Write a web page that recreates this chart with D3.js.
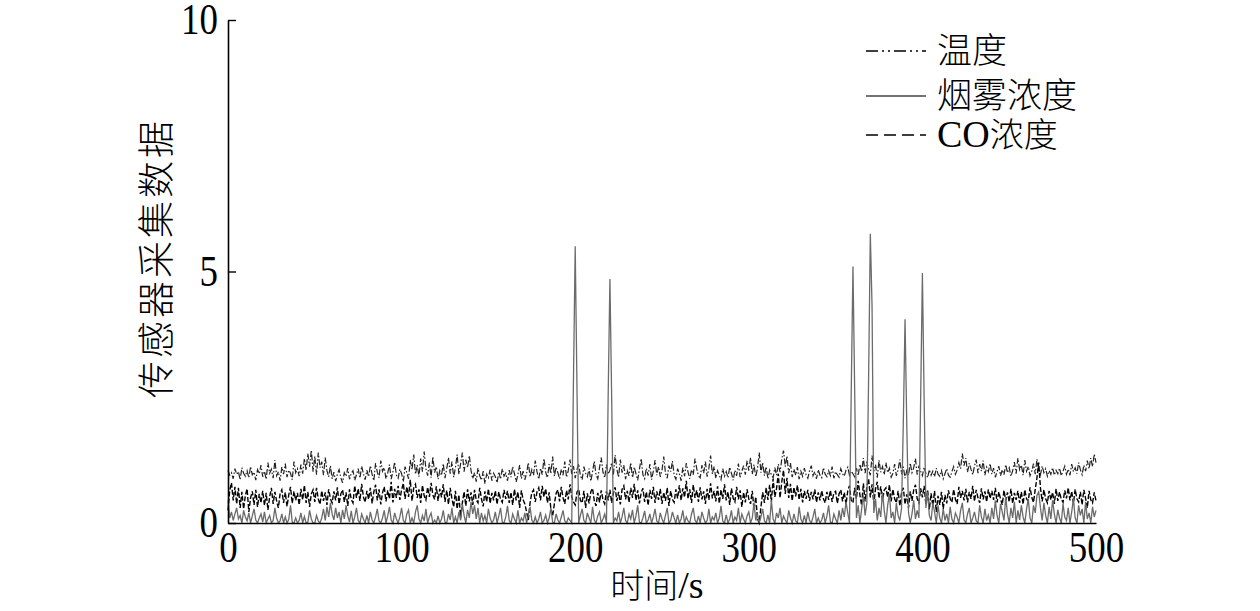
<!DOCTYPE html>
<html>
<head>
<meta charset="utf-8">
<script src="https://cdn.jsdelivr.net/npm/d3@7"></script>
<style>
  html, body { margin: 0; padding: 0; background: #fff; }
  svg { display: block; }
</style>
</head>
<body>
<svg id="chart" width="1260" height="611"></svg>
<script>
// sampled once per second, 0..500 s
const seconds = d3.range(0, 501);

// 温度
const temperature = [
  1.05,0.95,1.00,0.88,1.08,0.97,1.02,0.86,1.10,0.99,0.93,1.04,0.90,1.12,0.96,1.01,0.85,1.06,0.98,1.15,
  0.92,1.03,0.87,1.20,0.99,1.07,0.89,1.25,0.94,1.02,0.84,1.11,0.97,1.18,0.91,1.05,0.99,0.86,1.22,1.00,
  1.08,0.93,1.16,0.98,1.28,1.05,1.38,1.12,1.45,1.02,1.33,0.96,1.40,1.10,1.22,0.95,1.30,1.04,0.92,1.14,
  0.88,1.01,0.83,0.97,1.06,0.90,0.80,1.00,0.93,1.09,0.87,0.99,1.04,0.85,0.96,1.08,0.89,1.13,0.98,0.86,
  1.05,0.92,1.14,0.97,0.84,1.19,1.01,0.90,1.24,1.03,1.10,0.88,0.99,1.16,0.87,1.02,1.21,0.95,0.89,1.07,
  0.98,0.82,1.12,1.00,0.88,1.25,1.06,1.36,0.97,1.15,0.92,1.28,1.02,1.42,1.08,0.94,1.20,0.90,1.32,1.00,
  1.12,0.87,1.04,0.95,1.18,0.89,1.08,1.30,0.98,1.22,0.91,1.10,1.36,0.97,1.18,1.40,1.02,1.26,1.10,1.34,
  1.04,0.88,1.00,0.82,1.09,0.94,0.85,1.03,0.78,0.97,0.90,1.06,0.84,0.99,0.92,0.80,1.02,0.87,1.08,0.93,
  0.99,0.84,1.05,0.91,1.12,0.98,0.82,0.96,1.15,0.88,1.03,0.86,0.99,1.20,0.92,1.06,0.95,1.24,1.02,0.87,
  1.09,0.96,1.28,1.01,0.90,1.17,0.98,1.32,0.93,1.11,1.00,0.88,1.07,0.95,1.22,0.91,1.04,1.26,0.97,1.13,
  0.89,1.06,1.18,0.94,0.86,1.12,0.99,0.92,1.08,0.83,1.02,1.23,0.96,0.88,1.10,1.30,1.01,0.90,1.16,0.97,
  1.05,1.20,0.96,1.35,1.07,0.91,1.26,1.00,1.15,0.87,1.04,0.94,1.20,0.90,1.11,0.98,0.85,1.07,1.28,0.96,
  0.88,1.09,0.94,1.17,0.86,1.03,1.25,0.95,1.12,0.92,1.05,1.32,0.99,0.89,1.14,1.02,1.23,0.95,0.87,1.08,
  0.98,0.84,1.10,0.93,1.19,1.01,0.88,1.06,0.96,1.28,1.08,0.94,0.90,1.15,0.99,1.22,0.92,1.09,1.34,0.97,
  1.12,0.89,1.04,0.95,0.86,1.08,0.93,1.02,0.90,1.11,0.99,0.85,1.05,0.94,1.18,0.91,1.03,1.14,0.96,1.24,
  1.04,1.30,0.97,1.16,0.92,1.08,1.40,1.00,1.20,0.94,1.12,0.88,1.05,0.96,0.90,1.10,0.95,1.17,1.01,1.27,
  1.44,1.12,1.33,0.99,1.19,0.91,1.07,0.95,1.11,0.87,1.03,0.93,1.09,0.96,0.89,1.04,1.14,0.94,1.02,0.88,
  1.06,0.95,0.90,1.10,0.97,0.92,1.04,0.94,1.12,0.89,1.02,0.96,0.91,1.08,0.98,0.93,1.05,1.11,0.95,1.03,
  0.98,0.92,1.09,0.94,1.17,1.02,1.29,0.99,1.22,1.06,0.95,1.34,1.03,1.16,0.90,1.25,1.01,1.12,0.96,1.20,
  1.00,1.09,0.91,0.99,1.17,0.94,1.06,1.26,0.97,1.12,0.89,1.04,0.95,1.19,1.00,1.10,1.28,0.96,1.14,1.03,
  0.94,1.11,0.99,0.90,1.06,0.95,1.03,0.92,1.09,0.97,0.93,1.04,0.88,0.98,1.08,0.95,0.91,1.02,1.12,0.97,
  1.05,1.20,1.08,1.38,1.14,1.29,1.01,1.19,1.07,0.96,1.13,1.26,0.99,1.17,1.03,1.24,0.95,1.11,1.02,1.18,
  0.97,1.09,0.91,1.02,1.13,0.94,1.06,0.96,1.16,1.00,1.10,0.93,1.04,1.21,0.98,1.29,1.06,1.15,0.95,1.25,
  1.03,1.12,0.94,1.03,1.18,0.97,1.27,1.05,0.96,1.13,1.00,1.08,0.93,1.04,0.97,1.10,0.95,1.05,0.98,1.09,
  0.94,1.03,1.13,0.97,1.07,0.95,1.17,1.02,1.10,0.98,1.20,1.06,0.96,1.15,1.03,1.24,1.08,1.29,1.12,1.37,
  1.20
];

// 烟雾浓度
const smoke = [
  0.45,0.10,0.22,0.05,0.18,0.30,0.08,0.15,0.00,0.25,0.12,0.04,0.20,0.00,0.14,0.28,0.06,0.00,0.10,0.18,
  0.02,0.22,0.00,0.08,0.15,0.00,0.05,0.30,0.10,0.00,0.04,0.18,0.00,0.12,0.00,0.07,0.35,0.02,0.00,0.10,
  0.00,0.05,0.20,0.00,0.13,0.00,0.02,0.25,0.08,0.00,0.00,0.15,0.04,0.00,0.10,0.28,0.05,0.32,0.12,0.40,
  0.18,0.06,0.30,0.10,0.22,0.00,0.26,0.08,0.35,0.14,0.02,0.24,0.00,0.12,0.30,0.05,0.00,0.18,0.08,0.00,
  0.15,0.00,0.22,0.06,0.00,0.12,0.28,0.04,0.00,0.10,0.25,0.00,0.14,0.32,0.06,0.00,0.20,0.08,0.00,0.12,
  0.30,0.05,0.00,0.18,0.26,0.00,0.10,0.00,0.22,0.35,0.08,0.00,0.15,0.04,0.28,0.00,0.12,0.20,0.00,0.06,
  0.00,0.14,0.00,0.08,0.25,0.02,0.00,0.18,0.06,0.30,0.00,0.12,0.00,0.22,0.05,0.38,0.15,0.00,0.26,0.10,
  0.42,0.18,0.35,0.08,0.30,0.00,0.20,0.04,0.15,0.00,0.28,0.10,0.00,0.06,0.22,0.00,0.14,0.30,0.02,0.00,
  0.12,0.34,0.05,0.00,0.18,0.08,0.00,0.25,0.00,0.10,0.04,0.20,0.00,0.15,0.32,0.06,0.00,0.12,0.00,0.08,
  0.22,0.00,0.05,0.16,0.00,0.10,0.30,0.02,0.00,0.18,0.06,0.00,0.12,0.25,0.04,0.00,0.10,0.05,0.00,2.85,
  5.50,2.75,0.00,0.15,0.28,0.05,0.00,0.20,0.10,0.00,0.32,0.06,0.00,0.14,0.22,0.00,0.08,0.18,0.00,2.55,
  4.85,2.50,0.00,0.10,0.04,0.22,0.00,0.12,0.30,0.05,0.00,0.18,0.08,0.26,0.00,0.14,0.35,0.02,0.00,0.10,
  0.24,0.00,0.06,0.18,0.00,0.12,0.28,0.04,0.00,0.20,0.08,0.00,0.15,0.30,0.00,0.05,0.22,0.10,0.00,0.16,
  0.00,0.08,0.25,0.00,0.12,0.04,0.00,0.18,0.30,0.06,0.00,0.14,0.00,0.22,0.10,0.00,0.05,0.28,0.00,0.12,
  0.06,0.20,0.00,0.10,0.34,0.04,0.00,0.16,0.00,0.08,0.25,0.00,0.12,0.05,0.30,0.00,0.18,0.08,0.00,0.14,
  0.22,0.00,0.10,0.40,0.05,0.18,0.00,0.12,0.28,0.04,0.00,0.16,0.00,0.45,0.08,0.00,0.20,0.10,0.30,0.00,
  0.14,0.06,0.00,0.25,0.10,0.00,0.18,0.04,0.00,0.32,0.08,0.00,0.15,0.00,0.22,0.05,0.00,0.12,0.28,0.00,
  0.10,0.00,0.06,0.20,0.00,0.14,0.35,0.02,0.00,0.18,0.08,0.00,0.25,0.05,0.30,0.12,0.42,0.20,0.00,2.58,
  5.10,2.60,0.10,0.35,0.00,0.28,0.55,0.15,0.40,2.85,5.75,4.30,0.20,0.48,0.05,0.30,0.12,0.62,0.25,0.00,
  0.35,0.58,0.10,0.22,0.00,0.40,0.15,0.05,0.30,1.99,4.05,1.95,0.20,0.00,0.18,0.45,0.08,0.25,0.10,2.50,
  4.97,2.45,0.30,0.62,0.15,0.05,0.40,0.22,0.00,0.35,0.10,0.00,0.28,0.05,0.18,0.00,0.32,0.08,0.00,0.20,
  0.12,0.00,0.25,0.40,0.06,0.00,0.18,0.30,0.00,0.10,0.22,0.04,0.00,0.35,0.12,0.00,0.28,0.05,0.16,0.00,
  0.30,0.08,0.45,0.15,0.00,0.38,0.22,0.05,0.52,0.18,0.00,0.30,0.10,0.42,0.00,0.25,0.06,0.35,0.12,0.00,
  0.28,0.48,0.10,0.00,0.35,0.20,0.55,0.62,0.30,0.05,0.40,0.15,0.00,0.32,0.08,0.45,0.18,0.00,0.26,0.10,
  0.00,0.38,0.12,0.05,0.30,0.00,0.22,0.48,0.10,0.00,0.35,0.15,0.28,0.00,0.42,0.08,0.20,0.00,0.32,0.12,
  0.25
];

// CO浓度
const co = [
  0.25,0.65,0.80,0.45,0.72,0.38,0.70,0.30,0.62,0.28,0.55,0.68,0.22,0.50,0.63,0.36,0.66,0.32,0.58,0.40,
  0.64,0.35,0.60,0.26,0.52,0.70,0.38,0.62,0.44,0.30,0.58,0.66,0.40,0.61,0.33,0.56,0.72,0.39,0.63,0.45,
  0.60,0.36,0.68,0.46,0.75,0.40,0.62,0.32,0.58,0.66,0.42,0.70,0.48,0.37,0.64,0.44,0.61,0.36,0.67,0.48,
  0.40,0.63,0.45,0.71,0.38,0.58,0.66,0.42,0.61,0.34,0.67,0.47,0.40,0.74,0.50,0.68,0.44,0.78,0.52,0.41,
  0.64,0.47,0.70,0.39,0.62,0.76,0.45,0.67,0.37,0.60,0.72,0.43,0.65,0.48,0.82,0.41,0.68,0.50,0.74,0.46,
  0.66,0.79,0.48,0.72,0.52,0.86,0.44,0.70,0.77,0.50,0.67,0.40,0.75,0.54,0.46,0.71,0.52,0.80,0.56,0.47,
  0.73,0.44,0.68,0.51,0.77,0.42,0.65,0.37,0.70,0.48,0.32,0.64,0.28,0.56,0.10,0.40,0.62,0.34,0.67,0.43,
  0.61,0.36,0.66,0.46,0.40,0.70,0.48,0.33,0.63,0.42,0.68,0.39,0.60,0.45,0.64,0.37,0.62,0.47,0.41,0.66,
  0.48,0.64,0.40,0.61,0.36,0.67,0.45,0.62,0.30,0.65,0.46,0.38,0.22,0.06,0.40,0.60,0.66,0.42,0.62,0.70,
  0.45,0.74,0.52,0.68,0.40,0.61,0.28,0.14,0.38,0.59,0.66,0.43,0.72,0.50,0.38,0.65,0.47,0.77,0.52,0.42,
  0.36,0.61,0.67,0.45,0.40,0.64,0.30,0.59,0.39,0.62,0.69,0.44,0.34,0.60,0.41,0.65,0.46,0.38,0.63,0.45,
  0.66,0.40,0.59,0.71,0.44,0.62,0.37,0.67,0.74,0.47,0.64,0.41,0.70,0.50,0.78,0.45,0.65,0.39,0.60,0.69,
  0.42,0.62,0.35,0.66,0.48,0.72,0.40,0.63,0.46,0.68,0.38,0.61,0.44,0.70,0.34,0.64,0.47,0.41,0.67,0.49,
  0.75,0.45,0.69,0.51,0.84,0.48,0.67,0.40,0.76,0.50,0.65,0.42,0.71,0.47,0.63,0.38,0.68,0.46,0.79,0.49,
  0.64,0.43,0.73,0.39,0.66,0.48,0.77,0.45,0.62,0.36,0.69,0.49,0.42,0.72,0.47,0.65,0.32,0.61,0.41,0.67,
  0.48,0.38,0.64,0.26,0.52,0.08,0.00,0.32,0.61,0.40,0.70,0.46,0.76,0.42,0.88,0.52,0.69,0.98,0.50,0.82,
  1.05,0.58,0.90,0.50,0.78,0.44,0.71,0.53,0.75,0.46,0.68,0.41,0.64,0.48,0.66,0.44,0.62,0.47,0.67,0.41,
  0.61,0.45,0.64,0.48,0.40,0.62,0.46,0.65,0.42,0.60,0.63,0.39,0.58,0.66,0.43,0.61,0.37,0.64,0.74,0.45,
  0.40,0.70,0.48,0.84,0.56,0.35,0.79,0.43,0.72,0.88,0.51,0.77,0.38,0.68,0.82,0.49,0.73,0.45,0.65,0.70,
  0.51,0.76,0.43,0.67,0.48,0.40,0.64,0.34,0.61,0.70,0.37,0.57,0.30,0.63,0.44,0.66,0.76,0.48,0.40,0.69,
  0.51,0.74,0.37,0.66,0.27,0.59,0.34,0.64,0.22,0.54,0.36,0.62,0.28,0.56,0.39,0.65,0.48,0.41,0.67,0.47,
  0.38,0.72,0.50,0.64,0.45,0.68,0.41,0.62,0.48,0.74,0.43,0.66,0.50,0.40,0.69,0.47,0.63,0.42,0.67,0.49,
  0.64,0.46,0.70,0.41,0.62,0.48,0.36,0.65,0.45,0.61,0.42,0.68,0.39,0.60,0.46,0.64,0.40,0.62,0.37,0.66,
  0.48,0.44,0.71,0.51,0.41,0.67,0.90,1.20,0.70,0.43,0.66,0.48,0.40,0.64,0.46,0.61,0.38,0.68,0.44,0.62,
  0.47,0.41,0.65,0.49,0.70,0.45,0.63,0.39,0.67,0.48,0.42,0.62,0.36,0.66,0.49,0.30,0.64,0.46,0.40,0.61,
  0.44
];

const xTicks = [0, 100, 200, 300, 400, 500];
const yTicks = [0, 5, 10];
const seriesNames = ['温度', '烟雾浓度', 'CO浓度'];

const serifFont = '"Liberation Serif", "Times New Roman", serif';
const cjkFont = '"Noto Sans CJK SC", sans-serif';

const svg = d3.select('#chart');

const x = d3.scaleLinear().domain([0, 500]).range([228, 1096]);
const y = d3.scaleLinear().domain([0, 10]).range([523, 20]);

const styles = [
  { name: seriesNames[0], values: temperature, color: '#222', width: 1.2, dash: '6,2,1.5,2' },
  { name: seriesNames[2], values: co, color: '#000', width: 1.4, dash: '5,2' },
  { name: seriesNames[1], values: smoke, color: '#6b6b6b', width: 1.3, dash: null }
];

const line = d3.line()
  .x((d, i) => x(seconds[i]))
  .y(d => y(d));

svg.append('g')
  .selectAll('path')
  .data(styles)
  .enter().append('path')
  .attr('d', d => line(d.values))
  .attr('fill', 'none')
  .attr('stroke', d => d.color)
  .attr('stroke-width', d => d.width)
  .attr('stroke-dasharray', d => d.dash);

// axes
const xAxis = svg.append('g')
  .attr('transform', `translate(0,${y(0)})`)
  .call(d3.axisBottom(x).tickValues(xTicks).tickSize(0).tickPadding(8).tickFormat(d3.format('d')));

const yAxis = svg.append('g')
  .attr('transform', `translate(${x(0)},0)`)
  .call(d3.axisLeft(y).tickValues(yTicks).tickSizeInner(-8).tickSizeOuter(0).tickPadding(10).tickFormat(d3.format('d')));

[xAxis, yAxis].forEach(a => {
  a.select('.domain').attr('stroke', '#000').attr('stroke-width', 1.6);
  a.selectAll('.tick line').attr('stroke', '#000').attr('stroke-width', 1.4);
  a.selectAll('text')
    .attr('fill', '#000')
    .style('font-family', serifFont)
    .style('font-size', '42px');
});
xAxis.selectAll('text').attr('transform', 'scale(0.88,1.04)');
yAxis.selectAll('text').attr('transform', 'scale(0.88,1.04)').attr('x', -10 / 0.88);

// axis titles
svg.append('text')
  .attr('transform', 'translate(170,258) rotate(-90)')
  .attr('text-anchor', 'middle')
  .style('font-family', cjkFont)
  .style('font-weight', 300)
  .style('font-size', '37px')
  .style('letter-spacing', '3px')
  .text('传感器采集数据');

const xTitle = svg.append('text')
  .attr('x', 657)
  .attr('y', 598)
  .attr('text-anchor', 'middle');
xTitle.append('tspan').style('font-family', cjkFont).style('font-weight', 300).style('font-size', '34px').text('时间');
xTitle.append('tspan').style('font-family', serifFont).style('font-size', '38px').text('/s');

// legend
const legendRows = [
  { label: seriesNames[0], y: 51, dash: '12,4,2,4,2,4' },
  { label: seriesNames[1], y: 96, dash: null },
  { label: seriesNames[2], y: 135, dash: '12,6' }
];

const legend = svg.append('g').attr('class', 'legend');
const items = legend.selectAll('g')
  .data(legendRows)
  .enter().append('g')
  .attr('transform', d => `translate(866,${d.y})`);

items.append('line')
  .attr('x1', 0).attr('x2', 60)
  .attr('stroke', d => d.dash ? '#000' : '#444')
  .attr('stroke-width', 1.4)
  .attr('stroke-dasharray', d => d.dash);

items.each(function (d) {
  const t = d3.select(this).append('text')
    .attr('x', 71)
    .attr('y', 12);
  if (d.label.startsWith('CO')) {
    t.append('tspan').style('font-family', serifFont).style('font-size', '38px').text('CO');
    t.append('tspan').style('font-family', cjkFont).style('font-weight', 300).style('font-size', '34px').text(d.label.slice(2));
  } else {
    t.append('tspan').style('font-family', cjkFont).style('font-weight', 300).style('font-size', '35px').text(d.label);
  }
});
</script>
</body>
</html>
